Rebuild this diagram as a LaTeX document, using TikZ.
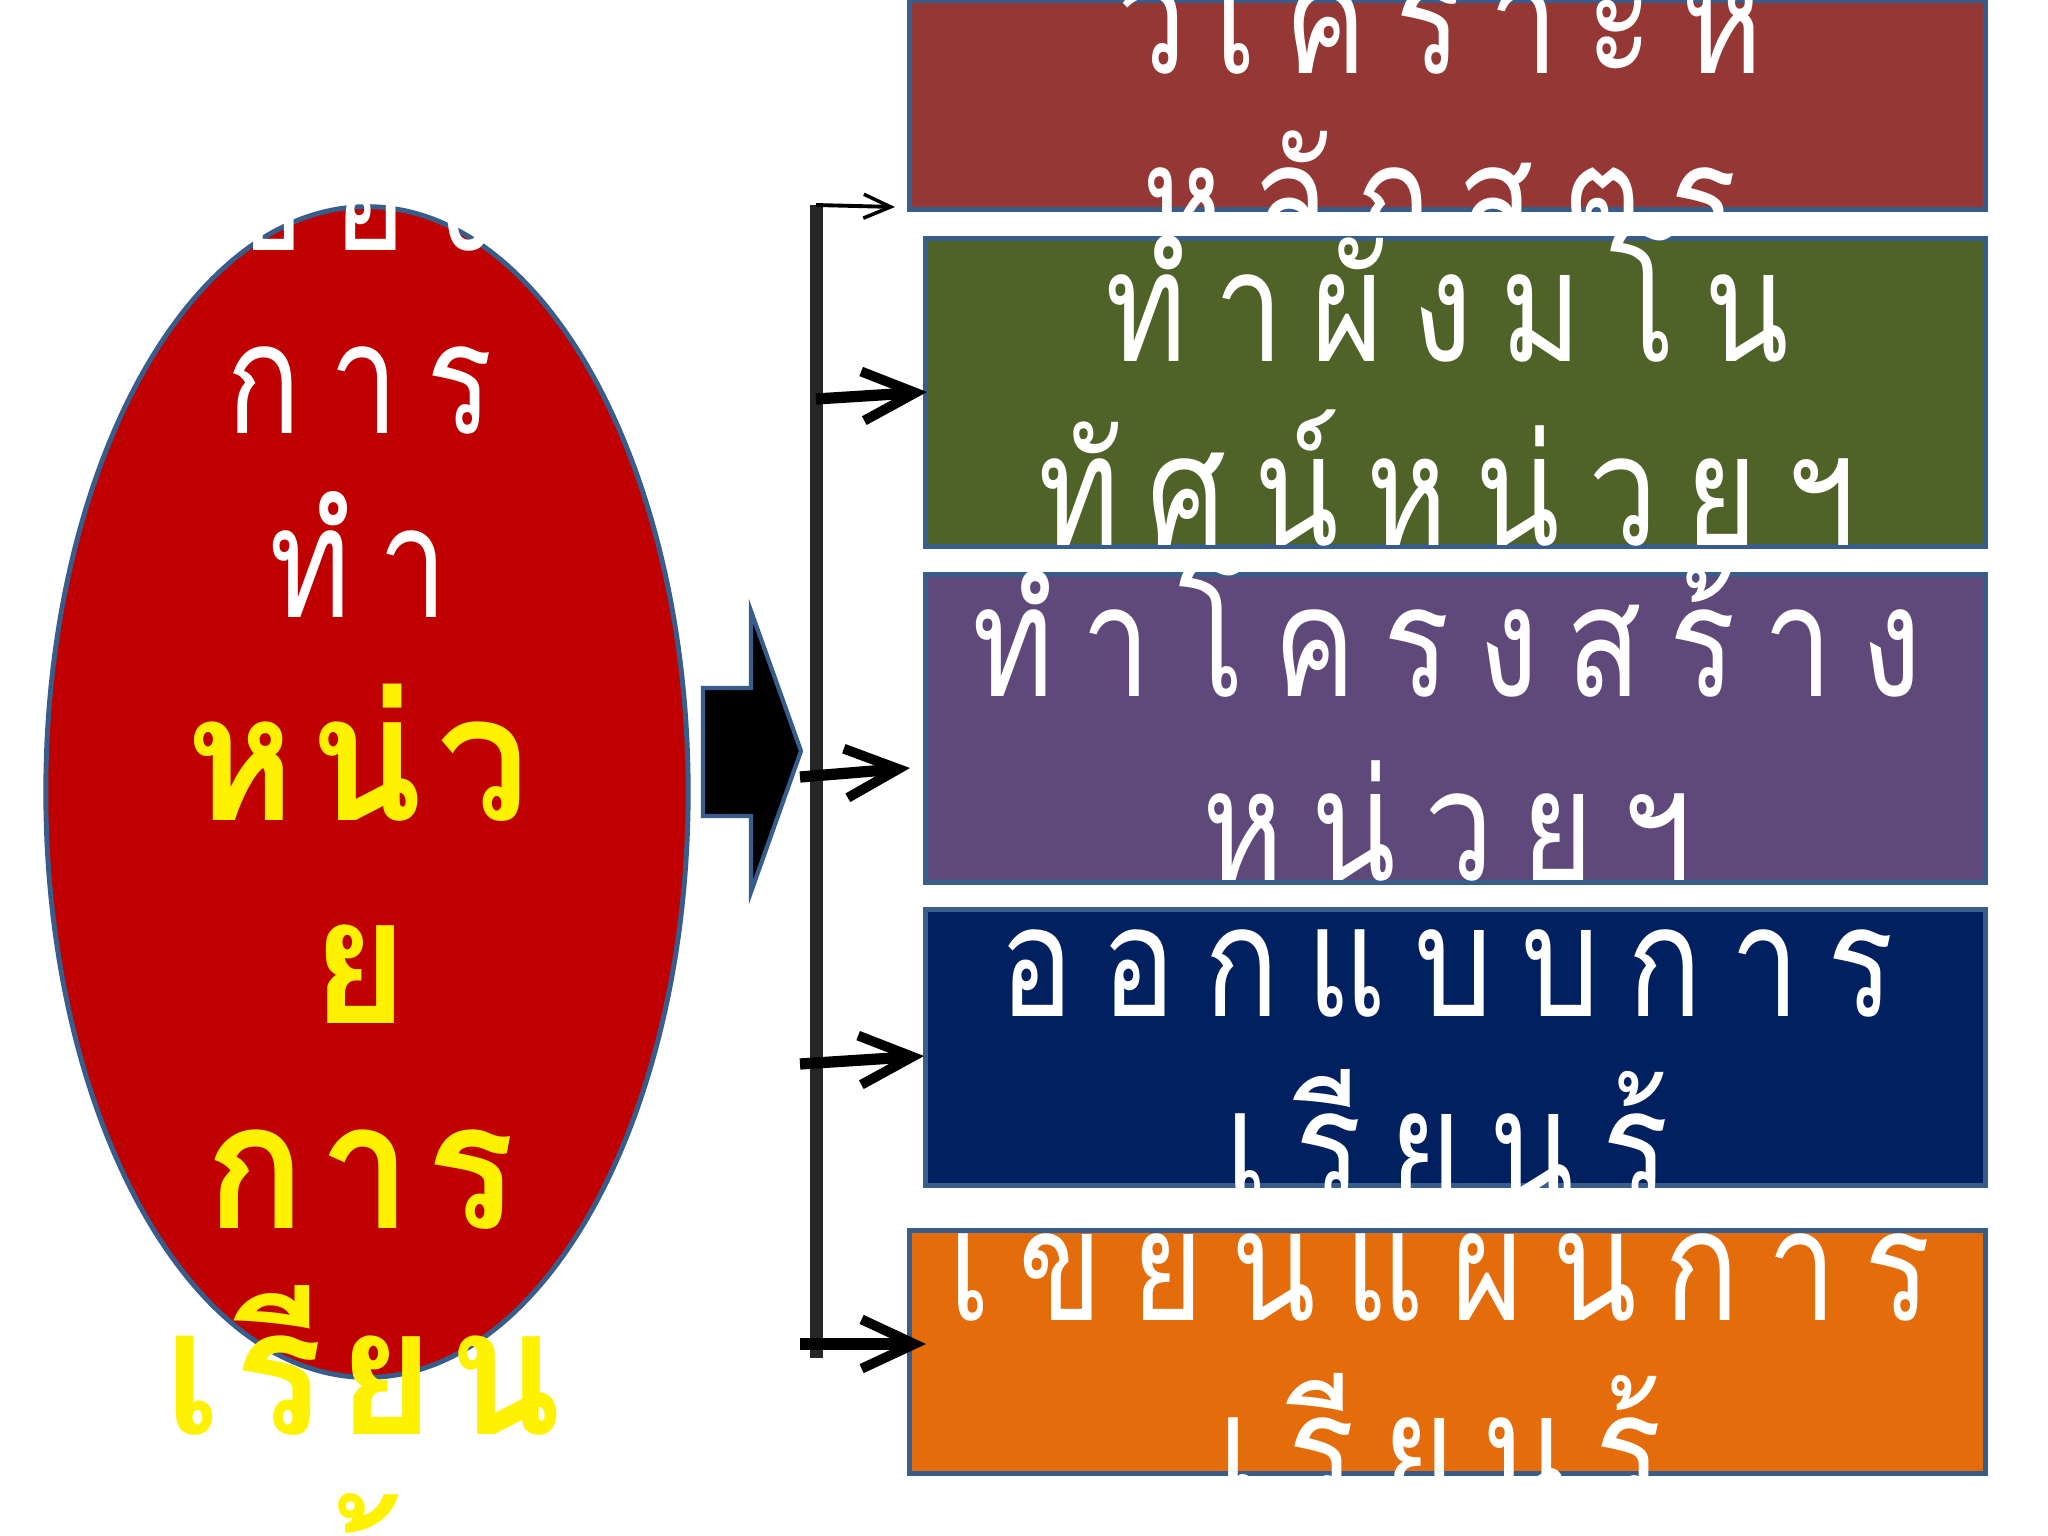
\documentclass[tikz,border=0pt]{standalone}
\usepackage{fontspec}
\usepackage{tikz}
\usetikzlibrary{shapes.geometric, arrows.meta}
\newfontfamily\thaiw[Script=Thai, LetterSpace=18, FakeStretch=0.8]{Loma}
\newfontfamily\thaiy[Script=Thai, LetterSpace=8, FakeStretch=0.94]{Loma}

\definecolor{ovalred}{HTML}{C00000}
\definecolor{frameblue}{HTML}{385D8A}
\definecolor{barblack}{HTML}{262626}
\definecolor{boxred}{HTML}{953735}
\definecolor{boxgreen}{HTML}{4F6228}
\definecolor{boxpurple}{HTML}{5F497A}
\definecolor{boxnavy}{HTML}{002060}
\definecolor{boxorange}{HTML}{E46C0A}

\tikzset{
    stepbox/.style={draw=frameblue, line width=1.4pt, rectangle, inner sep=0pt},
    wtxt/.style={anchor=base, inner sep=0pt, text=white, font=\thaiw\fontsize{44}{53}\selectfont},
    ytxt/.style={anchor=base, inner sep=0pt, text=yellow, font=\thaiy\bfseries\fontsize{50}{60}\selectfont},
    link/.style={line width=3.2pt, -{Straight Barb[length=15pt, width=14pt, line width=2.8pt] .}},
    thinlink/.style={line width=1.1pt, -{Straight Barb[length=7.7pt, width=6.8pt, line width=1pt] .}},
}

\begin{document}
\begin{tikzpicture}[x=0.01cm, y=-0.01cm]
        \clip (0,0) rectangle (2048,1536);
        \fill[white] (0,0) rectangle (2048,1536);

        % oval on the left
        \node[draw=frameblue, line width=1.4pt, fill=ovalred, ellipse, minimum width=6.42cm, minimum height=11.70cm, inner sep=0pt] at (367, 792) (oval) {};
        \node[wtxt] at (358, 250) (o1) {ของ};
        \node[wtxt] at (360, 433) (o2) {การ};
        \node[wtxt] at (359, 617) (o3) {ทำ};
        \node[ytxt] at (358, 820) (o4) {หน่ว};
        \node[ytxt] at (360, 1023) (o5) {ย};
        \node[ytxt] at (360, 1228) (o6) {การ};
        \node[ytxt] at (363, 1434) (o7) {เรียน};
        \node[ytxt] at (360, 1640) (o8) {รู้};

        % block arrow and bar
        \draw[frameblue, line width=1.2pt, fill=black] (703,688) -- (751,688) -- (751,611) -- (801,751) -- (751,892) -- (751,816) -- (703,816) -- cycle;
        \coordinate (bartop) at (816, 205);
        \coordinate (barbot) at (816, 1358);
        \draw[barblack, line width=3.7pt] (bartop) -- (barbot);

        % boxes, each with its two lines
        \node[stepbox, fill=boxred, minimum width=10.75cm, minimum height=2.08cm] at (1447.5, 105) (box1) {};
        \node[wtxt] at (1440, 73) (b1a) {วิเคราะห์};
        \node[wtxt] at (1440, 254) (b1b) {หลักสูตร};
        \node[stepbox, fill=boxgreen, minimum width=10.59cm, minimum height=3.07cm] at (1455.5, 392.5) (box2) {};
        \node[wtxt] at (1447, 361) (b2a) {ทำผังมโน};
        \node[wtxt] at (1447, 545) (b2b) {ทัศน์หน่วยฯ};
        \node[stepbox, fill=boxpurple, minimum width=10.59cm, minimum height=3.07cm] at (1455.5, 728.5) (box3) {};
        \node[wtxt] at (1447, 696) (b3a) {ทำโครงสร้าง};
        \node[wtxt] at (1447, 880) (b3b) {หน่วยฯ};
        \node[stepbox, fill=boxnavy, minimum width=10.59cm, minimum height=2.75cm] at (1455.5, 1047.5) (box4) {};
        \node[wtxt] at (1447, 1016) (b4a) {ออกแบบการ};
        \node[wtxt] at (1447, 1200) (b4b) {เรียนรู้};
        \node[stepbox, fill=boxorange, minimum width=10.75cm, minimum height=2.42cm] at (1447.5, 1352) (box5) {};
        \node[wtxt] at (1440, 1320) (b5a) {เขียนแผนการ};
        \node[wtxt] at (1440, 1504) (b5b) {เรียนรู้};

        % arrows to the boxes
        \coordinate (s2) at (816, 399);
        \coordinate (s3) at (800, 777);
        \coordinate (s4) at (800, 1064);
        \coordinate (s5) at (800, 1344);
        \coordinate (t1) at (895, 207);
        \coordinate (t2) at (927, 392);
        \coordinate (t3) at (910, 768);
        \coordinate (t4) at (924, 1056);
        \coordinate (t5) at (926, 1344);
        \draw[thinlink] (bartop) -- (t1);
        \draw[link] (s2) -- (t2);
        \draw[link] (s3) -- (t3);
        \draw[link] (s4) -- (t4);
        \draw[link] (s5) -- (t5);
    \end{tikzpicture}
\end{document}
